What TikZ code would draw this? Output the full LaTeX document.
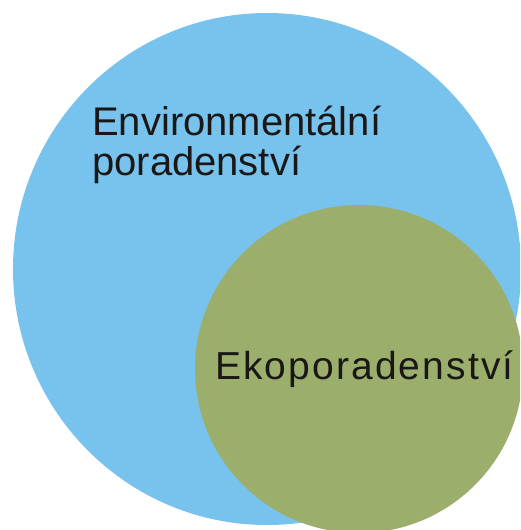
\documentclass[tikz,border=0pt]{standalone}
\usepackage{fontspec}
\setmainfont{Liberation Sans}
\newfontfamily\ekofont[LetterSpace=5.4]{Liberation Sans}
\definecolor{envblue}{RGB}{120,195,237}
\definecolor{ekogreen}{RGB}{155,174,107}
\definecolor{txt}{RGB}{26,24,22}
\begin{document}
\begin{tikzpicture}[x=1pt,y=-1pt,
  lbl/.style={anchor=base west, inner sep=0pt, text=txt, font=\fontsize{40}{40}\selectfont}]
\useasboundingbox (0,0) rectangle (520,530);
\begin{scope}
\clip (0,0) rectangle (520,530);
\fill[envblue] (267,269) ellipse [x radius=254, y radius=256];
\fill[ekogreen] (359,369) circle [radius=164];
\end{scope}
\node[lbl] (env1) at (92,135) {Environmentální};
\node[lbl] (env2) at (92,175) {poradenství};
\node[lbl, font=\fontsize{39}{39}\ekofont] (eko) at (215,379) {Ekoporadenství};
\end{tikzpicture}
\end{document}
